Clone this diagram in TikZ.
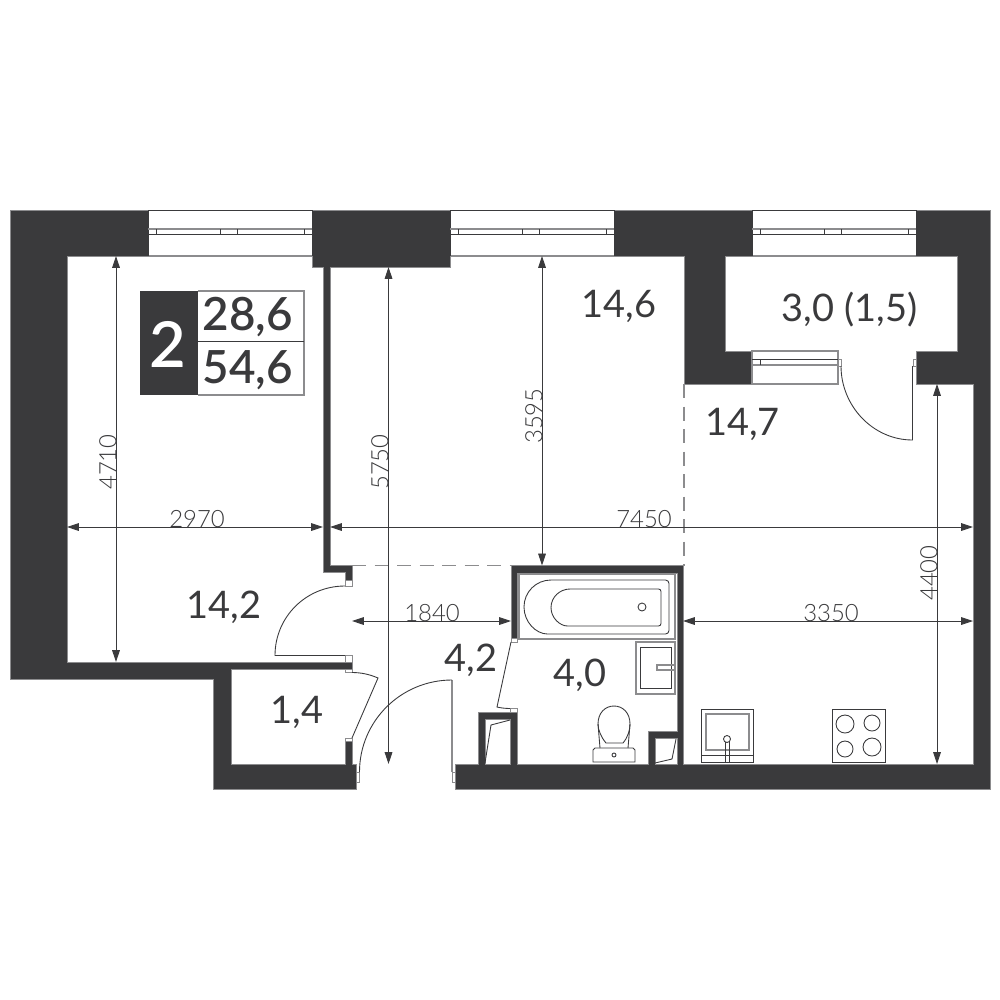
\documentclass[tikz,border=0pt]{standalone}
\usepackage{fontspec}
\setmainfont{Lato}
\newfontfamily\lightfont{Lato Light}
\newfontfamily\mediumfont{Lato Semibold}
\usepackage{xcolor}
\usetikzlibrary{arrows.meta}
\definecolor{walldark}{HTML}{3A3A3C}
\definecolor{edgegray}{HTML}{8C8C8E}
\tikzset{
 plan/.style={x=0.01cm,y=-0.01cm,line join=miter},
 wall/.style={fill=walldark,draw=edgegray,line width=0.25pt,even odd rule},
 thinline/.style={draw=walldark,line width=0.25pt},
 grayline/.style={draw=edgegray,line width=0.3pt},
 jamb/.style={draw=edgegray,line width=0.25pt,fill=white},
 dimline/.style={<->,>={Triangle[length=3.4pt,width=2.2pt]},draw=walldark,line width=0.25pt},
 dimlabel/.style={font=\lightfont\fontsize{6.8}{7}\selectfont,text=walldark,inner sep=0pt},
 roomlabel/.style={font=\fontsize{10.8}{12}\selectfont,text=walldark,inner sep=0pt},
 badgelabel/.style={font=\mediumfont\fontsize{13}{14}\selectfont,text=walldark,inner sep=0pt},
 partdash/.style={draw=edgegray,line width=0.3pt,dash pattern=on 4pt off 2.4pt}}
\begin{document}
\begin{tikzpicture}[plan]
  \useasboundingbox[fill=white] (0,0) rectangle (1000,1000);
  % walls
  \path[wall] (10,210) -- (148,210) -- (148,256) -- (67,256) -- (67,662) -- (352,662) -- (352,669)
    -- (231,669) -- (231,764) -- (345,764) -- (345,741) -- (352,741) -- (352,764) -- (356,764)
    -- (356,789) -- (213,789) -- (213,679) -- (10,679) -- cycle;
  \path[wall] (312,210) -- (450,210) -- (450,267) -- (330,267) -- (330,565.5) -- (352,565.5)
    -- (352,580) -- (345,580) -- (345,572.5) -- (323,572.5) -- (323,267) -- (312,267) -- cycle;
  \path[wall] (614,210) -- (752,210) -- (752,256) -- (725,256) -- (725,351) -- (752,351)
    -- (752,384) -- (684,384) -- (684,256) -- (614,256) -- cycle;
  \path[wall] (916,210) -- (990,210) -- (990,789) -- (455,789) -- (455,764) -- (478,764)
    -- (478,712) -- (517,712) -- (517,764) -- (648,764) -- (648,731) -- (677,731) -- (677,573)
    -- (517,573) -- (517,638) -- (511,638) -- (511,565.5) -- (683,565.5) -- (683,764)
    -- (973,764) -- (973,384) -- (916,384) -- (916,351) -- (957,351) -- (957,256) -- (916,256) -- cycle
    (485,719) -- (510,719) -- (510,764) -- (485,764) -- cycle
    (655,738) -- (677,738) -- (677,764) -- (655,764) -- cycle;
  % windows
  \foreach \wx in {148,450,752} {
    \draw[thinline] (\wx,210) -- (\wx+164,210);
    \draw[grayline] (\wx,256) -- (\wx+164,256);
    \draw[thinline] (\wx,210) -- (\wx,256) (\wx+164,210) -- (\wx+164,256);
    \draw[grayline] (\wx,229) -- (\wx+164,229);
    \draw[thinline] (\wx,234) -- (\wx+164,234);
    \foreach \tk in {8,72,89,156}
      \draw[thinline] (\wx+\tk,229) -- (\wx+\tk,234);
  }
  % balcony door and window
  \draw[grayline] (752,351) rectangle (838,384);
  \draw[thinline] (752,359) -- (838,359);
  \draw[grayline] (752,365) -- (838,365);
  \draw[thinline] (760,359) -- (760,365);
  \draw[jamb] (838,359) rectangle (841,366);
  \draw[jamb] (913,359) rectangle (916,366);
  \draw[thinline] (912.5,366) -- (912.5,440) .. controls (873,440) and (841,406) .. (841,366);
  % dashes
  \draw[partdash] (684,384) -- (684,566);
  \draw[partdash] (352,565.5) -- (511,565.5);
  % doors
  \draw[jamb] (345,580) rectangle (352,586);
  \draw[jamb] (345,655.5) rectangle (352,662);
  \draw[jamb] (345,669) rectangle (352,672.5);
  \draw[jamb] (345,738) rectangle (352,741);
  \draw[jamb] (356,772) rectangle (359.5,782);
  \draw[jamb] (452,772) rectangle (455,782);
  \draw[jamb] (511,638) rectangle (517,642);
  \draw[jamb] (510,708.5) rectangle (517,712);
  \draw[thinline] (345,586) .. controls (306,586) and (275,617) .. (275,655.5) -- (345,655.5);
  \draw[thinline] (352,672.5) .. controls (360,672.5) and (369,674) .. (378,678) -- (352,738);
  \draw[grayline] (452,772) -- (452,680);
  \draw[thinline] (452,680) .. controls (401,680) and (359.5,721) .. (359.5,772);
  \draw[thinline] (511,642) -- (497,707) .. controls (501,708) and (506,708.5) .. (510,708.5);
  \draw[thinline] (510,720) -- (491,725) -- (485,763);
  \draw[thinline] (676,739) -- (672,759) -- (655,763);
  % bath
  \draw[grayline] (519,574) rectangle (675,639);
  \draw[thinline] (551,580) [rounded corners=1pt] -- (669,580) -- (669,634) -- (551,634)
    [sharp corners] .. controls (536,634) and (524,622) .. (524,607) .. controls (524,592) and (536,580) .. (551,580);
  \draw[thinline] (570,589) [rounded corners=0.7pt] -- (661,589) -- (661,626) -- (570,626)
    [sharp corners] .. controls (560,626) and (551,618) .. (551,607.5) .. controls (551,597) and (560,589) .. (570,589);
  \draw[thinline] (642,607) circle (4);
  % basin
  \draw[grayline] (636,642) rectangle (675,694);
  \draw[thinline] (640,647) rectangle (671,688);
  \draw[grayline] (657,665) rectangle (675,670);
  % toilet
  \draw[thinline] (606,743) .. controls (601,737) and (598,730) .. (598,724) .. controls (598,713) and (605,706) .. (614,706)
    .. controls (623,706) and (630,713) .. (630,724) .. controls (630,730) and (628,737) .. (623,743) -- cycle;
  \draw[thinline] (598,724) -- (600,748) (630,724) -- (628,748);
  \draw[thinline] (593,750) -- (593,762) -- (635,762) -- (635,750) -- (633,748) -- (595,748) -- cycle;
  \draw[thinline] (614,755) circle (2);
  % kitchen
  \draw[thinline] (701,709) rectangle (753,762);
  \draw[grayline] (706,714) rectangle (749,750);
  \draw[thinline] (701,755) -- (753,755);
  \draw[thinline] (725,742) -- (725,762) (729,742) -- (729,762);
  \draw[thinline,fill=white] (727,739) circle (3.5);
  \draw[thinline] (832,709) rectangle (885,762);
  \draw[thinline] (845,724) circle (9);
  \draw[thinline] (872,723) circle (8);
  \draw[thinline] (845,749) circle (8);
  \draw[thinline] (872,747) circle (9);
  % badge
  \fill[walldark] (140,291) rectangle (198,395);
  \draw[grayline] (198,291) -- (304,291) -- (304,395) -- (198,395);
  \draw[thinline] (198,341.5) -- (304,341.5);
  \node[font=\mediumfont\fontsize{18}{19}\selectfont,text=white,inner sep=0pt] (rooms) at (168,344) {2};
  \node[badgelabel] (livarea) at (248,317) {28,6};
  \node[badgelabel] (totarea) at (248,370) {54,6};
  % rooms
  \node[roomlabel] (room1) at (224,607) {14,2};
  \node[roomlabel] (room2) at (619,306) {14,6};
  \node[roomlabel] (room3) at (742.5,424) {14,7};
  \node[roomlabel] (balcony) at (849.5,310) {3,0 (1,5)};
  \node[roomlabel] (hall) at (471,660) {4,2};
  \node[roomlabel] (bathroom) at (580,675) {4,0};
  \node[roomlabel] (closet) at (297,712) {1,4};
  % dimensions
  \coordinate (a4710) at (116,256); \coordinate (b4710) at (116,662);
  \coordinate (a5750) at (388.5,267); \coordinate (b5750) at (388.5,764);
  \coordinate (a3595) at (542,256); \coordinate (b3595) at (542,565.5);
  \coordinate (a4400) at (937,384); \coordinate (b4400) at (937,764);
  \coordinate (a2970) at (67,527); \coordinate (b2970) at (323,527);
  \coordinate (a7450) at (330,527); \coordinate (b7450) at (973,527);
  \coordinate (a1840) at (352,621); \coordinate (b1840) at (511,621);
  \coordinate (a3350) at (683,621); \coordinate (b3350) at (973,621);
  \foreach \dm in {4710,5750,3595,4400,2970,7450,1840,3350}
    \draw[dimline] (a\dm) -- (b\dm);
  \node[dimlabel,rotate=90] (t4710) at (108,462) {4710};
  \node[dimlabel,rotate=90] (t5750) at (380,462) {5750};
  \node[dimlabel,rotate=90] (t3595) at (534,416) {3595};
  \node[dimlabel,rotate=90] (t4400) at (929,573) {4400};
  \node[dimlabel] (t2970) at (197,519) {2970};
  \node[dimlabel] (t7450) at (644,519) {7450};
  \node[dimlabel] (t1840) at (432,613) {1840};
  \node[dimlabel] (t3350) at (831,613) {3350};
\end{tikzpicture}
\end{document}
